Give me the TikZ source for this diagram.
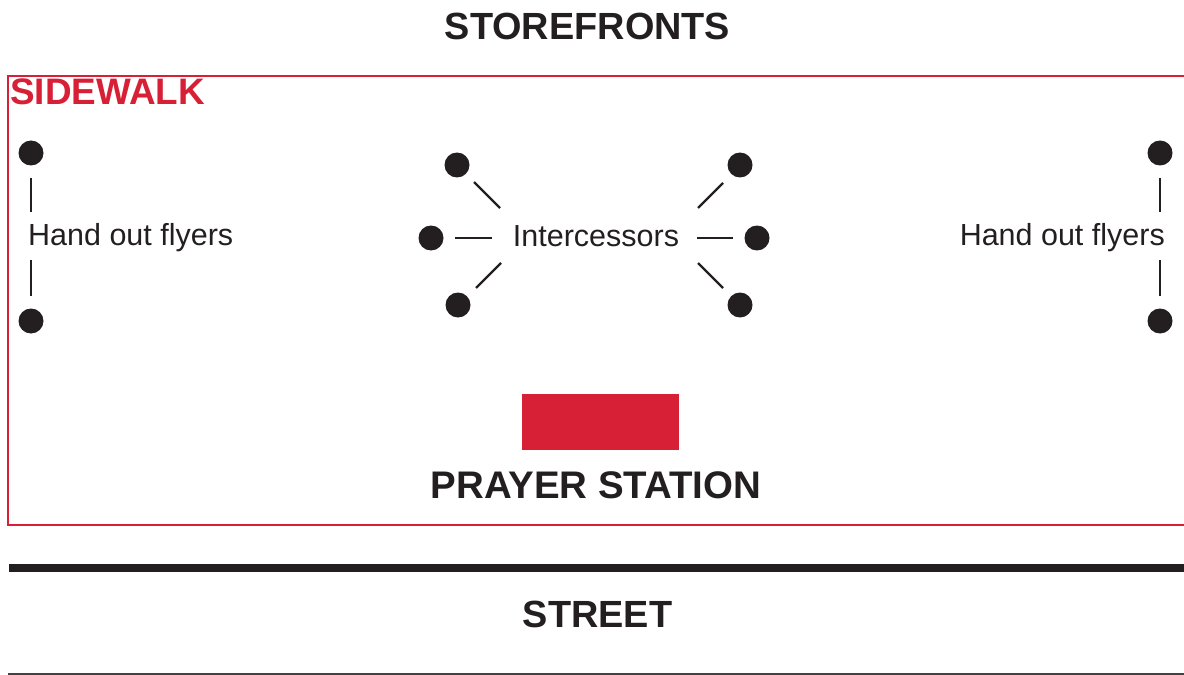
\documentclass[tikz,border=0pt]{standalone}
\usepackage{fontspec}
\setmainfont{Liberation Sans}
\definecolor{sred}{RGB}{215,31,53}
\definecolor{sblack}{RGB}{35,31,32}
\tikzset{
  head/.style={inner sep=0pt, anchor=base, text=sblack, font=\fontsize{38}{41}\selectfont\bfseries},
  lbl/.style={inner sep=0pt, text=sblack, font=\fontsize{30.6}{34}\selectfont},
  person/.style={circle, fill=sblack, minimum size=25bp, inner sep=0pt},
  conn/.style={draw=sblack, line width=2.2bp},
}
\begin{document}
\begin{tikzpicture}[x=1bp,y=-1bp]
\useasboundingbox (0,0) rectangle (1184,675);
% sidewalk frame
\draw[sred, line width=2.5bp] (1186,76) -- (8,76) -- (8,525) -- (1186,525);
\node[head, anchor=base west, text=sred, font=\fontsize{37}{40}\selectfont\bfseries] (sidewalk) at (10,105) {SIDEWALK};
% headings
\node[head] (store) at (587.5,40) {STOREFRONTS};
\node[head, font=\fontsize{38.6}{41}\selectfont\bfseries] (prayer) at (596,498) {PRAYER STATION};
\node[head] (street) at (597.5,627) {STREET};
% street lines
\fill[sblack] (9,564) rectangle (1184,572);
\fill[sblack!85] (8,673) rectangle (1184,675);
% prayer station table
\fill[sred] (522,394) rectangle (679,450);
% left flyers
\node[person] (l1) at (31,153) {};
\node[person] (l2) at (31,321) {};
\node[lbl, anchor=base west] (lflyers) at (28,245) {Hand out flyers};
\coordinate (l1a) at (31,178); \coordinate (l1b) at (31,212);
\coordinate (l2a) at (31,296); \coordinate (l2b) at (31,260);
\draw[conn] (l1a) -- (l1b);
\draw[conn] (l2a) -- (l2b);
% right flyers
\node[person] (r1) at (1160,153) {};
\node[person] (r2) at (1160,321) {};
\node[lbl, anchor=base east] (rflyers) at (1165,245) {Hand out flyers};
\coordinate (r1a) at (1160,178); \coordinate (r1b) at (1160,212);
\coordinate (r2a) at (1160,296); \coordinate (r2b) at (1160,260);
\draw[conn] (r1a) -- (r1b);
\draw[conn] (r2a) -- (r2b);
% intercessors
\node[lbl, anchor=base] (inter) at (596,246) {Intercessors};
\node[person] (i1) at (457,165) {};
\node[person] (i2) at (431,238) {};
\node[person] (i3) at (458,305) {};
\node[person] (i4) at (740,165) {};
\node[person] (i5) at (757,238) {};
\node[person] (i6) at (740,305) {};
\coordinate (c1a) at (474,182); \coordinate (c1b) at (500,208);
\coordinate (c2a) at (455,238); \coordinate (c2b) at (492,238);
\coordinate (c3a) at (476,288); \coordinate (c3b) at (501,263);
\coordinate (c4a) at (723,183); \coordinate (c4b) at (698,208);
\coordinate (c5a) at (733,238); \coordinate (c5b) at (697,238);
\coordinate (c6a) at (723,288); \coordinate (c6b) at (698,263);
\draw[conn] (c1a) -- (c1b);
\draw[conn] (c2a) -- (c2b);
\draw[conn] (c3a) -- (c3b);
\draw[conn] (c4a) -- (c4b);
\draw[conn] (c5a) -- (c5b);
\draw[conn] (c6a) -- (c6b);
\end{tikzpicture}
\end{document}
